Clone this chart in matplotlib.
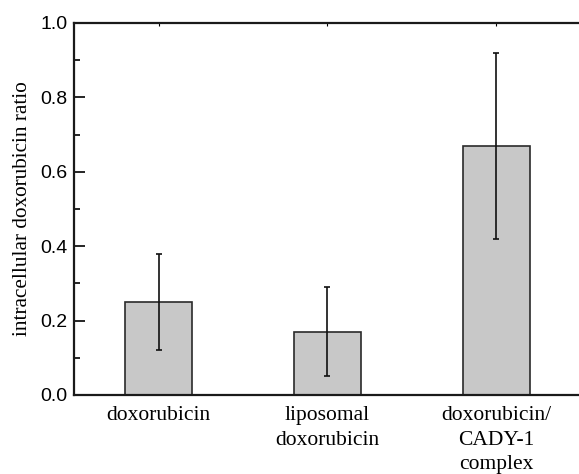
import matplotlib
matplotlib.use('Agg')
import matplotlib.pyplot as plt
from matplotlib.ticker import MultipleLocator

# values
categories = ['doxorubicin', 'liposomal\ndoxorubicin', 'doxorubicin/\nCADY-1\ncomplex']
ratio = [0.25, 0.17, 0.67]
err = [0.13, 0.12, 0.25]

fig = plt.figure(figsize=(5.79, 4.74), dpi=100)
ax = fig.add_axes([0.128, 0.1667, 0.875, 0.785])

pos = [1, 2, 3]
ax.bar(pos, ratio, width=0.4, color='#c8c8c8', edgecolor='#2a2a2a', linewidth=1.2, zorder=2)
ax.errorbar(pos, ratio, yerr=err, fmt='none', ecolor='#111111', elinewidth=1.2,
            capsize=2.5, capthick=1.2, zorder=3)

ax.set_xlim(0.5, 3.5)
ax.set_ylim(0, 1.0)
ax.yaxis.set_major_locator(MultipleLocator(0.2))
ax.yaxis.set_minor_locator(MultipleLocator(0.1))
ax.set_xticks(pos)
ax.set_xticklabels(categories, family='Liberation Serif', fontsize=15.5, linespacing=1.4)
for t in ax.get_yticklabels():
    t.set_family('Liberation Sans')
ax.tick_params(axis='y', which='major', direction='in', length=8, width=1.2, labelsize=14, pad=5)
ax.tick_params(axis='y', which='minor', direction='in', length=4.5, width=1.2)
ax.tick_params(axis='x', which='major', direction='in', length=2, width=0.8, top=True, pad=8)
ax.set_ylabel('intracellular doxorubicin ratio', family='Liberation Serif', fontsize=15.3, labelpad=6)

for s in ax.spines.values():
    s.set_linewidth(1.6)
    s.set_color('#1a1a1a')

fig.savefig('out.png', dpi=100)
